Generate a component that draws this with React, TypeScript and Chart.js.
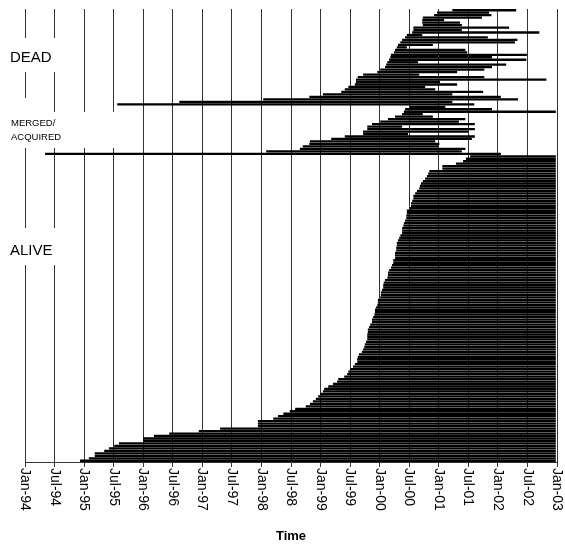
import React, { useEffect, useRef } from "react";
import { Chart, registerables } from "chart.js";

Chart.register(...registerables);

// Dates are decimal years (e.g. 2000.5 = Jul-00)
const deadStart = [
  2001.23, 2000.97, 2000.92, 2000.73, 2000.72, 2000.72, 2000.73, 2000.57, 2000.57, 2000.55,
  2000.46, 2000.43, 2000.38, 2000.35, 2000.31, 2000.29, 2000.26, 2000.24, 2000.19, 2000.18,
  2000.16, 2000.13, 2000.11, 2000.09, 2000.01, 1999.96, 1999.72, 1999.63, 1999.6, 1999.6,
  1999.58, 1999.47, 1999.41, 1999.35, 1999.04, 1998.81, 1998.03, 1996.61, 1995.56,
];
const deadEnd = [
  2002.31, 2001.85, 2001.89, 2001.73, 2001.09, 2001.36, 2001.39, 2002.19, 2001.39, 2002.7,
  2000.72, 2001.83, 2002.33, 2002.29, 2000.9, 2000.46, 2001.45, 2001.48, 2002.49, 2001.9,
  2002.48, 2000.65, 2002.14, 2001.9, 2001.77, 2001.31, 2000.67, 2001.77, 2002.82, 2001.02,
  2001.31, 2000.77, 2000.94, 2001.75, 2001.23, 2002.05, 2002.34, 2001.23, 2001.6,
];
const mergedStart = [
  2000.51, 2000.43, 2000.41, 2000.38, 2000.26, 2000.14, 2000.01, 1999.87, 1999.79, 1999.79,
  1999.72, 1999.72, 1999.41, 1999.18, 1998.82, 1998.81, 1998.7, 1998.65, 1998.08, 1994.34,
];
const mergedEnd = [
  2001.11, 2001.9, 2002.98, 2000.73, 2000.9, 2001.45, 2001.34, 2001.61, 2000.38, 2001.61,
  2001.5, 2000.48, 2001.61, 2001.56, 2000.94, 2001.01, 2000.99, 2001.45, 2001.39, 2002.05,
];
const aliveStart = [
  2001.53, 2001.46, 2001.41, 2001.29, 2001.06, 2001.06, 2000.84, 2000.82, 2000.8, 2000.77,
  2000.73, 2000.7, 2000.68, 2000.67, 2000.63, 2000.6, 2000.57, 2000.57, 2000.55, 2000.53,
  2000.53, 2000.51, 2000.46, 2000.46, 2000.45, 2000.45, 2000.43, 2000.41, 2000.4, 2000.38,
  2000.38, 2000.38, 2000.35, 2000.33, 2000.31, 2000.29, 2000.29, 2000.28, 2000.28, 2000.26,
  2000.26, 2000.26, 2000.23, 2000.23, 2000.21, 2000.19, 2000.16, 2000.14, 2000.14, 2000.13,
  2000.09, 2000.07, 2000.06, 2000.06, 2000.04, 2000.02, 2000.02, 2000.01, 1999.97, 1999.97,
  1999.96, 1999.94, 1999.92, 1999.92, 1999.91, 1999.89, 1999.87, 1999.87, 1999.84, 1999.82,
  1999.8, 1999.8, 1999.79, 1999.79, 1999.79, 1999.77, 1999.75, 1999.74, 1999.72, 1999.7,
  1999.65, 1999.63, 1999.62, 1999.62, 1999.58, 1999.55, 1999.5, 1999.47, 1999.45, 1999.4,
  1999.3, 1999.28, 1999.21, 1999.13, 1999.06, 1999.04, 1998.99, 1998.96, 1998.92, 1998.87,
  1998.82, 1998.75, 1998.57, 1998.48, 1998.37, 1998.28, 1998.2, 1997.94, 1997.94, 1997.94,
  1997.3, 1996.94, 1996.44, 1996.18, 1996.0, 1996.0, 1995.59, 1995.51, 1995.42, 1995.34,
  1995.18, 1995.18, 1995.08, 1994.93,
];
const aliveEnd = 2002.98;

const tickLabels = [
  "Jan-94", "Jul-94", "Jan-95", "Jul-95", "Jan-96", "Jul-96", "Jan-97", "Jul-97", "Jan-98",
  "Jul-98", "Jan-99", "Jul-99", "Jan-00", "Jul-00", "Jan-01", "Jul-01", "Jan-02", "Jul-02", "Jan-03",
];
const axisMin = 1994;
const axisMax = 2003;
const axisStep = 0.5;
const axisTitle = "Time";

const FONT = '"Liberation Sans", Arial, Helvetica, sans-serif';

export default function App() {
  const ref = useRef<HTMLCanvasElement | null>(null);

  useEffect(() => {
    const canvas = ref.current;
    if (!canvas) return;

    const ranges: [number, number][] = [
      ...deadStart.map((s, i) => [s, deadEnd[i]] as [number, number]),
      ...mergedStart.map((s, i) => [s, mergedEnd[i]] as [number, number]),
      ...aliveStart.map((s) => [s, aliveEnd] as [number, number]),
    ];
    const labels = ranges.map((_, i) => String(i + 1));

    const annot = {
      id: "annot",
      beforeDatasetsDraw(chart: any) {
        const ctx = chart.ctx;
        ctx.save();
        ctx.fillStyle = "#fff";
        ctx.fillRect(3, 38, 64, 34);
        ctx.fillRect(3, 98, 36, 50);
        ctx.fillRect(3, 112, 115, 36);
        ctx.fillRect(3, 228, 64, 37);
        ctx.fillStyle = "#000";
        ctx.textAlign = "left";
        ctx.textBaseline = "alphabetic";
        ctx.font = `15px ${FONT}`;
        ctx.fillText("DEAD", 10, 62);
        ctx.fillText("ALIVE", 10, 255);
        ctx.font = `9.5px ${FONT}`;
        ctx.fillText("MERGED/", 11, 126);
        ctx.fillText("ACQUIRED", 11, 140);
        ctx.restore();
      },
      afterDraw(chart: any) {
        const ctx = chart.ctx;
        const xs = chart.scales.x;
        ctx.save();
        ctx.fillStyle = "#000";
        ctx.font = `14px ${FONT}`;
        tickLabels.forEach((lab, i) => {
          const px = xs.getPixelForValue(axisMin + i * axisStep);
          ctx.save();
          ctx.translate(px, 468);
          ctx.rotate(Math.PI / 2);
          ctx.textAlign = "left";
          ctx.textBaseline = "middle";
          ctx.fillText(lab, 0, 0);
          ctx.restore();
        });
        ctx.font = `bold 13px ${FONT}`;
        ctx.textAlign = "center";
        ctx.textBaseline = "middle";
        ctx.fillText(axisTitle, (xs.left + xs.right) / 2, 536);
        ctx.restore();
      },
    };

    const chart = new Chart(canvas, {
      type: "bar",
      data: {
        labels,
        datasets: [
          {
            data: ranges as any,
            backgroundColor: "#000",
            borderWidth: 0,
            barPercentage: 0.93,
            categoryPercentage: 1,
          },
        ],
      },
      options: {
        indexAxis: "y",
        animation: false,
        responsive: false,
        devicePixelRatio: 1,
        layout: { padding: { left: 25, right: 8, top: 9, bottom: 0 } },
        plugins: { legend: { display: false }, tooltip: { enabled: false } },
        scales: {
          x: {
            type: "linear",
            position: "bottom",
            min: axisMin,
            max: axisMax,
            ticks: { stepSize: axisStep, display: false },
            grid: { color: "#333", lineWidth: 1, drawTicks: true, tickLength: 5 },
            border: { display: true, color: "#333", width: 1 },
            afterFit: (s: any) => {
              s.height = 95;
            },
          },
          y: { display: false },
        },
      } as any,
      plugins: [annot],
    });

    return () => chart.destroy();
  }, []);

  return (
    <div style={{ position: "absolute", left: 0, top: 0, width: 565, height: 557, background: "#fff" }}>
      <canvas ref={ref} width={565} height={557} style={{ display: "block" }} />
    </div>
  );
}
